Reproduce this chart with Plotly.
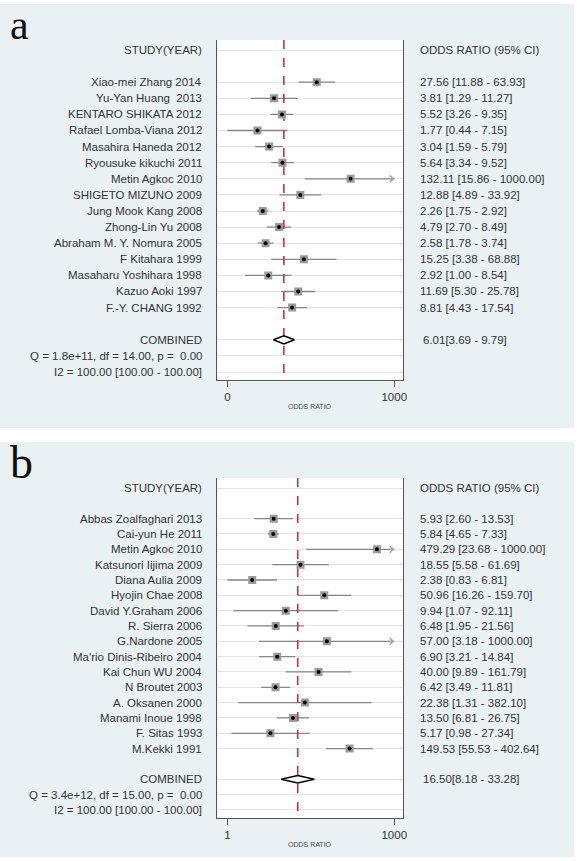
import math
import plotly.graph_objects as go

W, H = 580, 861

# ---------------- data: panel a ----------------
studies_a = ["Xiao-mei Zhang 2014", "Yu-Yan Huang\u00a0 2013", "KENTARO SHIKATA 2012",
             "Rafael Lomba-Viana 2012", "Masahira Haneda 2012", "Ryousuke kikuchi 2011",
             "Metin Agkoc 2010", "SHIGETO MIZUNO 2009", "Jung Mook Kang 2008",
             "Zhong-Lin Yu 2008", "Abraham M. Y. Nomura 2005", "F Kitahara 1999",
             "Masaharu Yoshihara 1998", "Kazuo Aoki 1997", "F.-Y. CHANG 1992"]
or_a = [27.56, 3.81, 5.52, 1.77, 3.04, 5.64, 132.11, 12.88, 2.26, 4.79, 2.58, 15.25, 2.92, 11.69, 8.81]
lo_a = [11.88, 1.29, 3.26, 0.44, 1.59, 3.34, 15.86, 4.89, 1.75, 2.70, 1.78, 3.38, 1.00, 5.30, 4.43]
hi_a = [63.93, 11.27, 9.35, 7.15, 5.79, 9.52, 1000.00, 33.92, 2.92, 8.49, 3.74, 68.88, 8.54, 25.78, 17.54]
comb_a = [6.01, 3.69, 9.79]
comb_text_a = "6.01[3.69 - 9.79]"
q_text_a = "Q = 1.8e+11, df = 14.00, p =\u00a0 0.00"
i2_text_a = "I2 = 100.00 [100.00 - 100.00]"
ticks_a = [0.44, 1000]
ticklabels_a = ["0", "1000"]

# ---------------- data: panel b ----------------
studies_b = ["Abbas Zoalfaghari 2013", "Cai-yun He 2011", "Metin Agkoc 2010",
             "Katsunori Iijima 2009", "Diana Aulia 2009", "Hyojin Chae 2008",
             "David Y.Graham 2006", "R. Sierra 2006", "G.Nardone 2005",
             "Ma'rio Dinis-Ribeiro 2004", "Kai Chun WU 2004", "N Broutet 2003",
             "A. Oksanen 2000", "Manami Inoue 1998", "F. Sitas 1993", "M.Kekki 1991"]
or_b = [5.93, 5.84, 479.29, 18.55, 2.38, 50.96, 9.94, 6.48, 57.00, 6.90, 40.00, 6.42, 22.38, 13.50, 5.17, 149.53]
lo_b = [2.60, 4.65, 23.68, 5.58, 0.83, 16.26, 1.07, 1.95, 3.18, 3.21, 9.89, 3.49, 1.31, 6.81, 0.98, 55.53]
hi_b = [13.53, 7.33, 1000.00, 61.69, 6.81, 159.70, 92.11, 21.56, 1000.00, 14.84, 161.79, 11.81, 382.10, 26.75, 27.34, 402.64]
comb_b = [16.50, 8.18, 33.28]
comb_text_b = "16.50[8.18 - 33.28]"
q_text_b = "Q = 3.4e+12, df = 15.00, p =\u00a0 0.00"
i2_text_b = "I2 = 100.00 [100.00 - 100.00]"
ticks_b = [0.83, 1000]
ticklabels_b = ["1", "1000"]

CAP = 1000.0

# ---------------- style ----------------
BG = "#e9f1f3"
TXT = "#333333"
FONT = "Liberation Sans, Arial, sans-serif"
FS = 11.5
CI_COL = "#858585"
SQ_COL = "#9a9a9a"
RED = "#c4304e"
AXC = "#555555"
GRID = "#e4e4e4"

PLOT_L, PLOT_R = 219, 406
LABEL_X = 205
OR_X = 421

def px(x):
    return x / W

def py(y):
    return 1 - y / H

panels = [
    dict(studies=studies_a, orr=or_a, lo=lo_a, hi=hi_a, comb=comb_a, comb_text=comb_text_a,
         q=q_text_a, i2=i2_text_a, ticks=ticks_a, ticklabels=ticklabels_a,
         top=40, bottom=380, row0=50, rowh=16.1, tick0px=229, tick1px=397,
         bg=(4, 428), letter="a", letter_y=1, letter_size=42, title_y=406, xa="x", ya="y"),
    dict(studies=studies_b, orr=or_b, lo=lo_b, hi=hi_b, comb=comb_b, comb_text=comb_text_b,
         q=q_text_b, i2=i2_text_b, ticks=ticks_b, ticklabels=ticklabels_b,
         top=478, bottom=818, row0=488, rowh=15.33, tick0px=229, tick1px=397,
         bg=(442, 857), letter="b", letter_y=436, letter_size=46, title_y=844, xa="x2", ya="y2"),
]

fig = go.Figure()
shapes = []
annotations = []
layout_axes = {}

for i, p in enumerate(panels):
    n = len(p["studies"])
    study_rows = [2 + k for k in range(n)]
    comb_row = n + 3
    q_row = n + 4
    i2_row = n + 5
    xa, ya = p["xa"], p["ya"]
    xname = "xaxis" if i == 0 else "xaxis2"
    yname = "yaxis" if i == 0 else "yaxis2"

    # axis ranges from pixel geometry
    l0, l1 = math.log10(p["ticks"][0]), math.log10(p["ticks"][1])
    ppd = (p["tick1px"] - p["tick0px"]) / (l1 - l0)
    xr = [l0 - (p["tick0px"] - PLOT_L) / ppd, l1 + (PLOT_R - p["tick1px"]) / ppd]
    ytop = (p["top"] - p["row0"]) / p["rowh"]
    ybot = (p["bottom"] - p["row0"]) / p["rowh"]

    # background panel
    shapes.append(dict(type="rect", xref="paper", yref="paper", x0=0, x1=px(578),
                       y0=py(p["bg"][1]), y1=py(p["bg"][0]), fillcolor=BG,
                       line=dict(width=0), layer="below"))
    # white plot area
    shapes.append(dict(type="rect", xref="paper", yref="paper", x0=px(PLOT_L), x1=px(PLOT_R),
                       y0=py(p["bottom"]), y1=py(p["top"]), fillcolor="white",
                       line=dict(width=0), layer="below"))

    # CI lines
    cx, cy = [], []
    for r, lo, hi in zip(study_rows, p["lo"], p["hi"]):
        cx += [lo, hi, None]
        cy += [r, r, None]
    fig.add_trace(go.Scatter(x=cx, y=cy, mode="lines", line=dict(color=CI_COL, width=1.3),
                             xaxis=xa, yaxis=ya, hoverinfo="skip", showlegend=False))
    # arrows for capped CIs
    for r, hi in zip(study_rows, p["hi"]):
        if hi >= CAP:
            annotations.append(dict(x=math.log10(hi), y=r, xref=xa, yref=ya,
                                    ax=math.log10(hi) - 0.12, ay=r, axref=xa, ayref=ya,
                                    text="", showarrow=True, arrowhead=4, arrowsize=1.3,
                                    arrowwidth=1, arrowcolor="#a99ea2"))
    # red dashed line at combined estimate
    fig.add_trace(go.Scatter(x=[p["comb"][0], p["comb"][0]], y=[ytop, ybot], mode="lines",
                             line=dict(color=RED, width=1.6, dash="dash"),
                             xaxis=xa, yaxis=ya, hoverinfo="skip", showlegend=False))
    # squares + dots
    fig.add_trace(go.Scatter(x=p["orr"], y=study_rows, mode="markers",
                             marker=dict(symbol="square", size=8, color=SQ_COL, line=dict(width=0)),
                             xaxis=xa, yaxis=ya, hoverinfo="skip", showlegend=False))
    fig.add_trace(go.Scatter(x=p["orr"], y=study_rows, mode="markers",
                             marker=dict(symbol="circle", size=4, color="black"),
                             xaxis=xa, yaxis=ya, hoverinfo="skip", showlegend=False))
    # diamond
    est, clo, chi = p["comb"]
    hh = 0.25
    fig.add_trace(go.Scatter(x=[clo, est, chi, est, clo],
                             y=[comb_row, comb_row - hh, comb_row, comb_row + hh, comb_row],
                             mode="lines", fill="toself", fillcolor="white",
                             line=dict(color="black", width=1.5),
                             xaxis=xa, yaxis=ya, hoverinfo="skip", showlegend=False))

    layout_axes[xname] = dict(type="log", range=xr, domain=[px(PLOT_L), px(PLOT_R)],
                              anchor=ya, showline=True, linecolor=AXC, linewidth=1.3,
                              ticks="outside", ticklen=6, tickcolor=AXC, tickwidth=1,
                              tickvals=p["ticks"], ticktext=p["ticklabels"],
                              tickfont=dict(family=FONT, size=FS, color=TXT),
                              showgrid=False, zeroline=False, mirror=False)
    layout_axes[yname] = dict(range=[ybot, ytop], domain=[py(p["bottom"]), py(p["top"])],
                              anchor=xa, showline=True, mirror=True, linecolor=AXC, linewidth=1.3,
                              tickvals=[0] + study_rows + [comb_row, q_row, i2_row],
                              showticklabels=False, ticks="", showgrid=True,
                              gridcolor=GRID, gridwidth=1, zeroline=False)

    # text columns
    def lab(text, row, x, anchor):
        annotations.append(dict(text=text, x=px(x), y=row, xref="paper", yref=ya,
                                xanchor=anchor, yanchor="middle", showarrow=False,
                                font=dict(family=FONT, size=FS, color=TXT)))
    lab("STUDY(YEAR)", 0, LABEL_X, "right")
    lab("ODDS RATIO (95% CI)", 0, OR_X, "left")
    for r, s, o, lo, hi in zip(study_rows, p["studies"], p["orr"], p["lo"], p["hi"]):
        lab(s, r, LABEL_X, "right")
        lab(f"{o:.2f} [{lo:.2f} - {hi:.2f}]", r, OR_X, "left")
    lab("COMBINED", comb_row, LABEL_X, "right")
    lab(p["comb_text"], comb_row, OR_X + 3, "left")
    lab(p["q"], q_row, LABEL_X, "right")
    lab(p["i2"], i2_row, LABEL_X, "right")

    # axis title
    annotations.append(dict(text="ODDS RATIO", x=px((PLOT_L + PLOT_R) / 2), y=py(p["title_y"]),
                            xref="paper", yref="paper", xanchor="center", yanchor="middle",
                            showarrow=False, font=dict(family=FONT, size=7, color="#444444")))
    # panel letter
    annotations.append(dict(text=p["letter"], x=px(9), y=py(p["letter_y"]), xref="paper",
                            yref="paper", xanchor="left", yanchor="top", showarrow=False,
                            borderpad=0,
                            font=dict(family="Liberation Serif, Times New Roman, serif",
                                      size=p["letter_size"], color="#111111")))

fig.update_layout(width=W, height=H, autosize=False, margin=dict(l=0, r=0, t=0, b=0),
                  paper_bgcolor="white", plot_bgcolor="rgba(0,0,0,0)",
                  shapes=shapes, annotations=annotations, showlegend=False, **layout_axes)

fig.write_html("out.html")
